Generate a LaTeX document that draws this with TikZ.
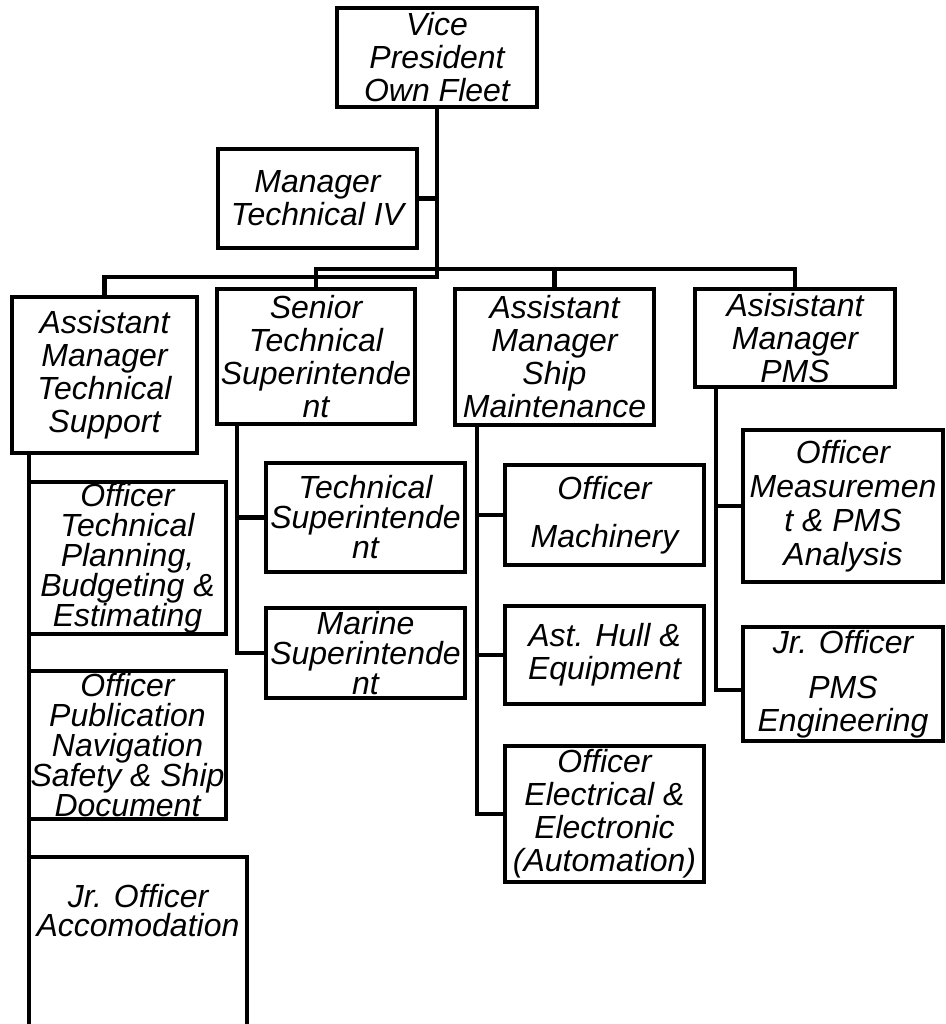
\documentclass[tikz,border=0pt]{standalone}
\usepackage{fontspec}
\setmainfont{Liberation Sans}
\usepackage{xcolor}
\usepackage{tikz}
\usetikzlibrary{calc}
\definecolor{ink}{HTML}{000000}
\tikzset{
  box/.style={draw=ink, line width=4.5pt, inner sep=0pt, outer sep=0pt, anchor=north west, align=center,
    text=ink, font=\itshape\fontsize{32}{33}\selectfont},
  tight/.style={box, font=\itshape\fontsize{32}{30}\selectfont},
  lab/.style={text=ink, align=center, font=\itshape\fontsize{32}{29}\selectfont},
  link/.style={draw=ink, line width=4.5pt}
}
\begin{document}
\begin{tikzpicture}[x=1pt, y=-1pt]
  \useasboundingbox (0,0) rectangle (945,1024);
  \clip (0,0) rectangle (945,1024);
  \coordinate (busA) at (0,277);
  \coordinate (busB) at (0,269);

  % top
  \node[box, minimum width=200, minimum height=99] (vp) at (337,8) {Vice\\President\\Own Fleet};
  \node[box, minimum width=199, minimum height=99] (mt4) at (218,149) {Manager\\Technical IV};

  % second row
  \node[box, minimum width=185, minimum height=156] (ats) at (12,297) {Assistant\\Manager\\Technical\\Support};
  \node[box, minimum width=198, minimum height=135] (sts) at (217,289) {Senior\\Technical\\Superintende\\nt};
  \node[box, minimum width=199, minimum height=136] (asm) at (455,289) {Assistant\\Manager\\Ship\\Maintenance};
  \node[box, minimum width=200, minimum height=98] (pms) at (695,289) {Asisistant\\Manager\\PMS};

  % under technical support
  \node[tight, minimum width=197, minimum height=152] (otp) at (29,482) {Officer\\Technical\\Planning,\\Budgeting \&\\Estimating};
  \node[tight, minimum width=197, minimum height=148] (opn) at (29,671) {Officer\\Publication\\Navigation\\Safety \& Ship\\Document};
  \node[box, minimum width=218, minimum height=200] (jra) at (29,857) {};
  \node[lab] (jra-t) at ($(jra.north)+(0,54)$) {Jr. Officer\\Accomodation};

  % under senior technical superintendent
  \node[tight, minimum width=199, minimum height=109] (tsup) at (266,463) {Technical\\Superintende\\nt};
  \node[tight, minimum width=199, minimum height=90] (msup) at (266,608) {Marine\\Superintende\\nt};

  % under ship maintenance
  \node[box, minimum width=199, minimum height=100] (omach) at (505,465) {Officer\\[15pt]Machinery};
  \node[box, minimum width=199, minimum height=98] (ahull) at (505,606) {Ast. Hull \&\\Equipment};
  \node[box, minimum width=199, minimum height=136] (oelec) at (505,746) {Officer\\Electrical \&\\Electronic\\(Automation)};

  % under pms
  \node[box, font=\itshape\fontsize{32}{34}\selectfont, minimum width=200, minimum height=152] (omeas) at (743,430) {Officer\\Measuremen\\t \& PMS\\Analysis};
  \node[box, minimum width=200, minimum height=114] (jpms) at (743,627) {Jr. Officer\\[12pt]PMS\\Engineering};

  % connectors
  \draw[link] (vp.south) -- (vp.south |- busA) -| (ats.north);
  \draw[link] (mt4.east) -- (mt4.east -| vp.south);
  \draw[link] (sts.north) -- (sts.north |- busB) -| (pms.north);
  \draw[link] (asm.north) -- (asm.north |- busB);

  \draw[link] ([xshift=17]ats.south west) -- (otp.north west);
  \draw[link] (otp.south west) -- (opn.north west);
  \draw[link] (opn.south west) -- (jra.north west);

  \draw[link] ([xshift=20]sts.south west) |- (tsup.west);
  \draw[link] ([xshift=20]sts.south west) |- (msup.west);

  \draw[link] ([xshift=22]asm.south west) |- (omach.west);
  \draw[link] ([xshift=22]asm.south west) |- (ahull.west);
  \draw[link] ([xshift=22]asm.south west) |- (oelec.west);

  \draw[link] ([xshift=21]pms.south west) |- (omeas.west);
  \draw[link] ([xshift=21]pms.south west) |- ([yshift=-6]jpms.west);
\end{tikzpicture}
\end{document}
